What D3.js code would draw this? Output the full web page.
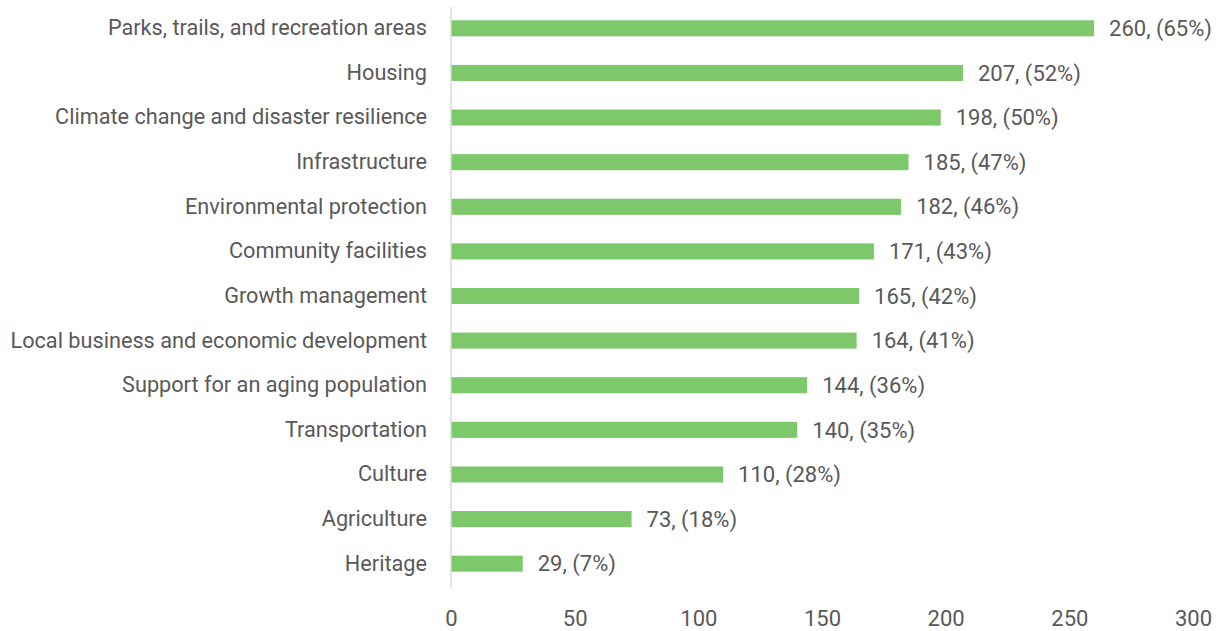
<!DOCTYPE html>
<html>
<head>
<meta charset="utf-8">
<script src="https://cdn.jsdelivr.net/npm/d3@7"></script>
<style>
  body { margin: 0; background: #fff; }
  text { font-family: Roboto, "Open Sans", sans-serif; fill: #595959; }
</style>
</head>
<body>
<div id="chart"></div>
<script>
(function() {

  var width = 1221, height = 631;

  var categories = [
    "Parks, trails, and recreation areas",
    "Housing",
    "Climate change and disaster resilience",
    "Infrastructure",
    "Environmental protection",
    "Community facilities",
    "Growth management",
    "Local business and economic development",
    "Support for an aging population",
    "Transportation",
    "Culture",
    "Agriculture",
    "Heritage"
  ];
  var counts = [260, 207, 198, 185, 182, 171, 165, 164, 144, 140, 110, 73, 29];
  var percents = [65, 52, 50, 47, 46, 43, 42, 41, 36, 35, 28, 18, 7];
  var ticks = [0, 50, 100, 150, 200, 250, 300];

  var margin = {top: 6, right: 28, bottom: 45, left: 451};

  var svg = d3.select("#chart")
    .append("svg")
    .attr("width", width)
    .attr("height", height);

  var x = d3.scaleLinear()
    .domain([0, 300])
    .range([margin.left, width - margin.right]);

  var y = d3.scaleBand()
    .domain(categories)
    .range([margin.top, height - margin.bottom])
    .paddingInner(0.64)
    .paddingOuter(0.32);

  // bars
  svg.selectAll(".bar")
    .data(categories)
    .enter().append("rect")
    .attr("class", "bar")
    .attr("x", x(0))
    .attr("y", function(d) { return y(d); })
    .attr("width", function(d, i) { return x(counts[i]) - x(0); })
    .attr("height", y.bandwidth())
    .attr("fill", "#7dc86a");

  // value labels
  svg.selectAll(".val")
    .data(categories)
    .enter().append("text")
    .attr("class", "val")
    .attr("x", function(d, i) { return x(counts[i]) + 15; })
    .attr("y", function(d) { return y(d) + y.bandwidth() / 2; })
    .attr("dy", "0.35em")
    .style("font-size", "22px")
    .text(function(d, i) { return counts[i] + ", (" + percents[i] + "%)"; });

  // category axis
  var yAxis = svg.append("g")
    .attr("transform", "translate(" + x(0) + ",0)")
    .call(d3.axisLeft(y).tickSize(0).tickPadding(24));
  yAxis.select(".domain")
    .attr("stroke", "#d9d9d9")
    .attr("stroke-width", 1.5)
    .attr("d", "M0," + (margin.top + 1) + "V" + (height - margin.bottom + 1));
  yAxis.selectAll("text")
    .style("font-size", "21.7px")
    .attr("fill", "#595959");

  // value axis, labels only
  var xAxis = svg.append("g")
    .attr("transform", "translate(0," + (height - margin.bottom) + ")")
    .call(d3.axisBottom(x).tickValues(ticks).tickSize(0).tickPadding(24));
  xAxis.select(".domain").remove();
  xAxis.selectAll("text")
    .style("font-size", "22px")
    .attr("fill", "#595959");

})();
</script>
</body>
</html>
